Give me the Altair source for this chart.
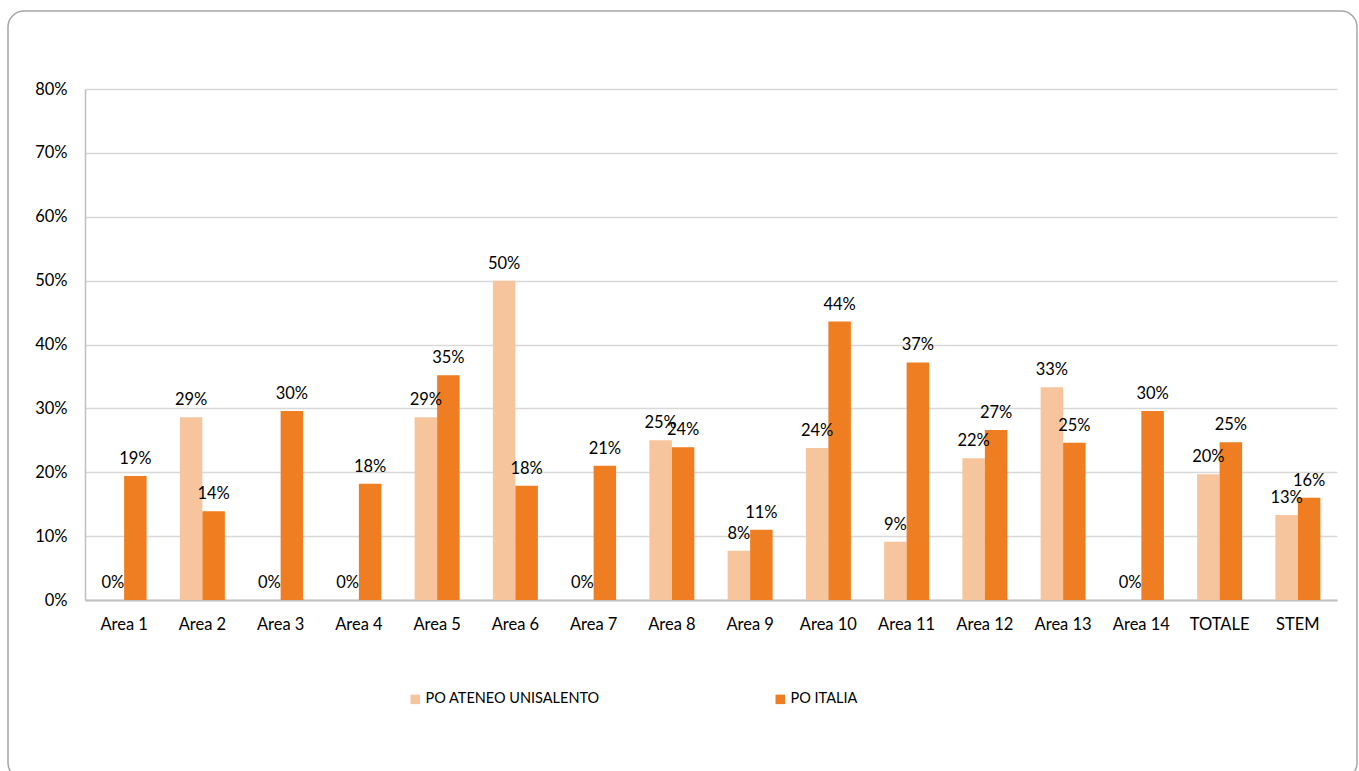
import altair as alt
import pandas as pd

# Categories and the two series (shares, 0-1)
areas = ["Area 1", "Area 2", "Area 3", "Area 4", "Area 5", "Area 6", "Area 7",
         "Area 8", "Area 9", "Area 10", "Area 11", "Area 12", "Area 13",
         "Area 14", "TOTALE", "STEM"]
po_ateneo = [0.0, 0.286, 0.0, 0.0, 0.286, 0.50, 0.0, 0.25, 0.077, 0.238,
             0.091, 0.222, 0.333, 0.0, 0.197, 0.133]
po_italia = [0.194, 0.139, 0.296, 0.182, 0.352, 0.179, 0.210, 0.239, 0.110,
             0.436, 0.372, 0.266, 0.246, 0.296, 0.247, 0.160]
series = ["PO ATENEO UNISALENTO", "PO ITALIA"]
colors = ["#F6C59E", "#EE7E21"]
y_ticks = [0, 0.1, 0.2, 0.3, 0.4, 0.5, 0.6, 0.7, 0.8]

rows = []
for a, v1, v2 in zip(areas, po_ateneo, po_italia):
    rows.append({"area": a, "serie": series[0], "valore": v1})
    rows.append({"area": a, "serie": series[1], "valore": v2})
df = pd.DataFrame(rows)

FONT = "Lato"

x_enc = alt.X(
    "area:N", sort=areas, title=None,
    scale=alt.Scale(paddingInner=0.425, paddingOuter=0.2125),
    axis=alt.Axis(labelAngle=0, labelFont=FONT, labelFontSize=16.5,
                  labelColor="#000000", labelPadding=16, ticks=False,
                  domainColor="#BFBFBF", domainWidth=2, grid=False),
)
xoff_enc = alt.XOffset("serie:N", sort=series,
                       scale=alt.Scale(paddingInner=0, paddingOuter=0))
y_enc = alt.Y(
    "valore:Q", title=None,
    scale=alt.Scale(domain=[0, 0.8], nice=False),
    axis=alt.Axis(values=y_ticks, format=".0%", labelFont=FONT,
                  labelFontSize=16.5, labelColor="#000000", labelPadding=18,
                  ticks=False, domainColor="#BFBFBF", domainWidth=1.5,
                  gridColor="#D9D9D9", gridWidth=1.5),
)

base = alt.Chart(df)

bars = base.mark_bar().encode(
    x=x_enc,
    xOffset=xoff_enc,
    y=y_enc,
    color=alt.Color(
        "serie:N", sort=series,
        scale=alt.Scale(domain=series, range=colors),
        legend=alt.Legend(orient="none", legendX=323, legendY=603,
                          direction="horizontal", title=None,
                          symbolType="square", symbolSize=90,
                          symbolStrokeWidth=0, labelFont=FONT,
                          labelFontSize=14.5, labelColor="#000000",
                          labelLimit=400, labelOffset=3, columnPadding=173),
    ),
)

labels = base.mark_text(dy=-12, baseline="alphabetic", font=FONT,
                        fontSize=16.5, color="#000000").encode(
    x=alt.X("area:N", sort=areas),
    xOffset=xoff_enc,
    y=alt.Y("valore:Q"),
    text=alt.Text("valore:Q", format=".0%"),
)

# rounded outer frame around the whole chart
frame = alt.Chart(pd.DataFrame({"k": [0]})).mark_rect(
    fill="transparent", stroke="#A6A6A6", strokeWidth=1.5, cornerRadius=16
).encode(
    x=alt.value(-77), x2=alt.value(1272),
    y=alt.value(-78), y2=alt.value(690),
)

chart = alt.layer(frame, bars, labels).properties(
    width=1252, height=511,
    autosize=alt.AutoSizeParams(type="none"),
    padding={"left": 85, "top": 89, "right": 22, "bottom": 171},
    background="#FFFFFF",
).configure_view(strokeWidth=0)

chart.save("out.html", embed_options={"renderer": "svg", "actions": False})
